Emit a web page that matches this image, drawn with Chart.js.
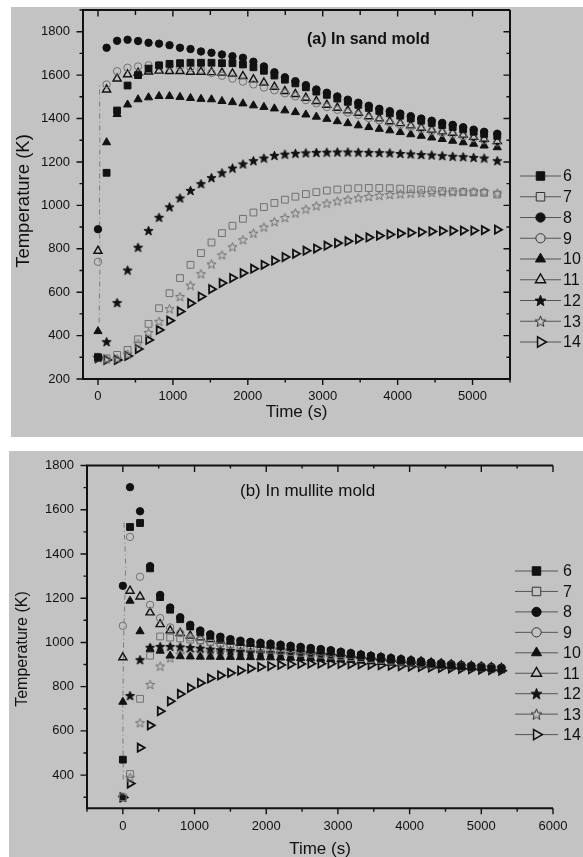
<!DOCTYPE html>
<html>
<head>
<meta charset="utf-8">
<script src="https://cdn.jsdelivr.net/npm/chart.js@4.4.1/dist/chart.umd.min.js"></script>
<style>
  html, body { margin: 0; padding: 0; background: #fff; width: 583px; height: 857px; overflow: hidden; }
  .panel { position: absolute; background: #c3c3c3; }
  #panelA { left: 11px; top: 7px; width: 572px; height: 430px; }
  #panelB { left: 9px; top: 451px; width: 574px; height: 406px; }
  canvas { position: absolute; left: 0; }
  #chartA { top: 0; }
  #chartB { top: 441px; }
</style>
</head>
<body>
<div class="panel" id="panelA"></div>
<div class="panel" id="panelB"></div>
<canvas id="chartA" width="583" height="440"></canvas>
<canvas id="chartB" width="583" height="430"></canvas>
<script>
// ---- data -------------------------------------------------------------
const seriesNames = ['6', '7', '8', '9', '10', '11', '12', '13', '14'];

// (a) sand mold
const timeA = [0, 115, 255, 395, 535, 675, 815, 955, 1095, 1235, 1375, 1515, 1655, 1795, 1935, 2075, 2215,
  2355, 2495, 2635, 2775, 2915, 3055, 3195, 3335, 3475, 3615, 3755, 3895, 4035, 4175, 4315, 4455, 4595,
  4735, 4875, 5015, 5155, 5330];
const sand6 = [300, 1150, 1437, 1552, 1600, 1630, 1645, 1652, 1655, 1657, 1657, 1657, 1655, 1655, 1649, 1636,
  1620, 1598, 1579, 1562, 1544, 1524, 1509, 1492, 1477, 1463, 1449, 1435, 1424, 1413, 1401, 1390, 1380,
  1370, 1361, 1350, 1339, 1329, 1320];
const sand7 = [300, 295, 311, 334, 383, 454, 526, 595, 665, 726, 780, 829, 872, 906, 938, 967, 992, 1011,
  1026, 1040, 1052, 1061, 1068, 1073, 1077, 1079, 1080, 1080, 1079, 1077, 1075, 1072, 1069, 1066, 1064,
  1062, 1060, 1058, 1050];
const sand8 = [890, 1726, 1758, 1763, 1757, 1749, 1745, 1738, 1726, 1720, 1709, 1703, 1695, 1687, 1680, 1662,
  1640, 1613, 1590, 1572, 1554, 1534, 1519, 1502, 1487, 1473, 1459, 1445, 1434, 1423, 1411, 1400, 1390,
  1380, 1371, 1360, 1349, 1339, 1330];
const sand9 = [740, 1557, 1618, 1634, 1640, 1645, 1645, 1643, 1640, 1635, 1625, 1610, 1597, 1584, 1570, 1557,
  1543, 1530, 1516, 1502, 1485, 1470, 1453, 1440, 1428, 1417, 1402, 1392, 1380, 1371, 1361, 1351, 1342,
  1334, 1328, 1319, 1309, 1300, 1290];
const sand10 = [420, 1290, 1420, 1464, 1488, 1497, 1503, 1503, 1499, 1494, 1490, 1488, 1480, 1475, 1469, 1460,
  1453, 1446, 1437, 1429, 1418, 1408, 1398, 1387, 1378, 1368, 1360, 1352, 1345, 1337, 1327, 1320, 1312,
  1305, 1297, 1290, 1283, 1275, 1267];
const sand11 = [790, 1533, 1584, 1603, 1611, 1616, 1620, 1618, 1618, 1615, 1615, 1613, 1611, 1607, 1595, 1580,
  1565, 1546, 1526, 1512, 1495, 1480, 1463, 1449, 1437, 1426, 1410, 1400, 1387, 1378, 1368, 1357, 1348,
  1340, 1334, 1325, 1315, 1306, 1295];
const sand12 = [300, 372, 552, 702, 807, 884, 945, 993, 1034, 1069, 1100, 1128, 1150, 1172, 1191, 1206, 1218,
  1230, 1236, 1240, 1242, 1244, 1245, 1246, 1246, 1245, 1244, 1243, 1242, 1239, 1237, 1234, 1232, 1229,
  1226, 1224, 1221, 1218, 1206];
const sand13 = [300, 292, 295, 315, 365, 414, 466, 524, 580, 632, 685, 730, 772, 809, 842, 872, 900, 925, 944,
  965, 983, 998, 1010, 1020, 1028, 1035, 1041, 1046, 1050, 1053, 1056, 1058, 1060, 1061, 1062, 1063, 1063,
  1063, 1057];
const sand14 = [296, 288, 288, 306, 338, 380, 426, 469, 511, 549, 580, 614, 642, 665, 688, 708, 726, 745, 762,
  777, 791, 801, 814, 826, 835, 845, 852, 860, 866, 871, 874, 877, 880, 882, 883, 884, 884, 886, 888];
const traceTimeA = [15, 25, 20, 25, 20];
const traceTempA = [460, 700, 1000, 1300, 1560];

// (b) mullite mold
const timeB = [0, 100, 240, 380, 520, 660, 800, 940, 1080, 1220, 1360, 1500, 1640, 1780, 1920, 2060, 2200,
  2340, 2480, 2620, 2760, 2900, 3040, 3180, 3320, 3460, 3600, 3740, 3880, 4020, 4160, 4300, 4440, 4580,
  4720, 4860, 5000, 5140, 5280];
const mull6 = [470, 1522, 1540, 1335, 1205, 1148, 1105, 1072, 1047, 1030, 1019, 1009, 1002, 997, 993, 989, 984,
  979, 974, 969, 964, 959, 952, 946, 940, 934, 929, 924, 919, 914, 909, 904, 900, 896, 892, 889, 886, 883, 880];
const mull7 = [300, 405, 745, 940, 1027, 1022, 1018, 1013, 1008, 1002, 996, 990, 984, 978, 972, 967, 962, 957,
  953, 949, 945, 941, 937, 933, 929, 925, 921, 917, 913, 909, 906, 902, 899, 896, 893, 890, 887, 884, 881];
const mull8 = [1256, 1702, 1593, 1345, 1215, 1158, 1114, 1080, 1054, 1037, 1026, 1015, 1008, 1003, 999, 995, 990,
  985, 980, 975, 970, 965, 958, 952, 946, 940, 935, 930, 925, 920, 915, 910, 906, 902, 898, 895, 892, 889, 886];
const mull9 = [1075, 1477, 1297, 1170, 1110, 1068, 1042, 1022, 1010, 1002, 996, 991, 987, 984, 981, 978, 974, 970,
  966, 962, 958, 953, 948, 943, 938, 933, 928, 924, 919, 915, 911, 907, 903, 899, 895, 892, 889, 886, 883];
const mull10 = [731, 1188, 1050, 970, 962, 940, 937, 936, 935, 935, 934, 934, 933, 933, 932, 932, 931, 930, 929,
  928, 926, 924, 922, 920, 917, 914, 911, 908, 905, 902, 899, 896, 893, 891, 889, 887, 885, 883, 881];
const mull11 = [932, 1233, 1207, 1135, 1082, 1054, 1042, 1030, 1022, 1015, 1008, 1003, 998, 994, 990, 986, 982,
  977, 972, 967, 962, 957, 952, 946, 941, 936, 931, 926, 921, 917, 913, 908, 904, 900, 896, 893, 890, 887, 884];
const mull12 = [300, 760, 922, 978, 982, 982, 980, 977, 974, 970, 967, 964, 961, 958, 956, 954, 952, 950, 948,
  946, 943, 940, 937, 934, 931, 927, 923, 920, 916, 912, 908, 905, 901, 898, 895, 892, 889, 886, 883];
const mull13 = [300, 390, 637, 810, 893, 930, 948, 955, 957, 957, 956, 955, 954, 952, 950, 948, 946, 944, 942,
  940, 937, 934, 931, 928, 925, 922, 919, 916, 912, 909, 906, 902, 899, 896, 893, 890, 887, 884, 881];
const mull14 = [299, 362, 524, 625, 689, 734, 767, 794, 817, 837, 851, 862, 873, 882, 889, 893, 898, 901, 903,
  904, 904, 904, 903, 902, 901, 899, 897, 895, 893, 891, 889, 887, 885, 883, 881, 879, 877, 875, 872];
const traceTimeB = [5, 0, 10, 40, 15];
const traceTempB = [380, 700, 1000, 1350, 1545];

// tick labels
const xTicksA = [0, 1000, 2000, 3000, 4000, 5000];
const yTicksA = [200, 400, 600, 800, 1000, 1200, 1400, 1600, 1800];
const xTicksB = [0, 1000, 2000, 3000, 4000, 5000, 6000];
const yTicksB = [400, 600, 800, 1000, 1200, 1400, 1600, 1800];

// ---- styles -----------------------------------------------------------
const FONT = '"Liberation Sans", Arial, sans-serif';
const INK = '#111';
const GREY = '#707070';
const PANEL = '#c3c3c3';

Chart.defaults.font.family = FONT;
Chart.defaults.color = INK;

function starCanvas(size, fill, stroke) {
  const c = document.createElement('canvas');
  c.width = c.height = size;
  const g = c.getContext('2d');
  const r = size / 2 - 0.7, ri = r * 0.42, cx = size / 2, cy = size / 2 + 0.5;
  g.beginPath();
  for (let i = 0; i < 10; i++) {
    const ang = -Math.PI / 2 + i * Math.PI / 5;
    const rr = i % 2 ? ri : r;
    g.lineTo(cx + rr * Math.cos(ang), cy + rr * Math.sin(ang));
  }
  g.closePath();
  if (fill) { g.fillStyle = fill; g.fill(); }
  g.strokeStyle = stroke;
  g.lineWidth = 1;
  g.stroke();
  return c;
}

const markers = [
  { style: 'rect', r: 4.8, fill: INK, line: INK, w: 1 },
  { style: 'rect', r: 4.8, fill: 'transparent', line: GREY, w: 1, key: PANEL },
  { style: 'circle', r: 3.7, fill: INK, line: INK, w: 1 },
  { style: 'circle', r: 3.7, fill: 'transparent', line: GREY, w: 1, key: PANEL },
  { style: 'triangle', r: 4.7, fill: INK, line: INK, w: 1 },
  { style: 'triangle', r: 4.7, fill: 'transparent', line: INK, w: 1.4, key: PANEL },
  { style: starCanvas(11, INK, INK), keyStyle: starCanvas(13, INK, INK), r: 4, fill: INK, line: INK, w: 1 },
  { style: starCanvas(11, null, GREY), keyStyle: starCanvas(13, PANEL, '#333'), r: 4, fill: 'transparent', line: GREY, w: 1 },
  { style: 'triangle', rot: 90, r: 4.7, fill: 'transparent', line: INK, w: 1.8, key: PANEL }
];

function buildSets(times, series, traceX, traceY) {
  const sets = series.map((vals, i) => {
    const m = markers[i];
    return {
      label: seriesNames[i],
      data: vals.map((v, k) => ({ x: times[k], y: v })),
      showLine: false,
      pointStyle: m.style,
      keyStyle: m.keyStyle || m.style,
      keyFill: m.key || m.fill,
      pointRadius: m.r,
      pointHoverRadius: m.r,
      pointRotation: m.rot || 0,
      pointBackgroundColor: m.fill,
      pointBorderColor: m.line,
      pointBorderWidth: m.w
    };
  });
  sets.push({
    label: '',
    data: traceX.map((x, k) => ({ x: x, y: traceY[k] })),
    showLine: true,
    borderColor: '#7a7a7a',
    borderWidth: 1,
    borderDash: [5, 3, 1, 3],
    pointRadius: 0
  });
  return sets;
}

// frame, inner/outer ticks on all sides (Origin style)
const framePlugin = {
  id: 'frame',
  afterDatasetsDraw(chart, args, o) {
    const { ctx, chartArea: a } = chart;
    const x = chart.scales.x, y = chart.scales.y;
    ctx.save();
    ctx.strokeStyle = INK;
    ctx.lineWidth = 2;
    ctx.beginPath();
    ctx.moveTo(a.right, a.top);
    ctx.lineTo(a.left, a.top);
    ctx.lineTo(a.left, a.bottom);
    ctx.lineTo(a.right, a.bottom);
    if (o.right) ctx.lineTo(a.right, a.top);
    ctx.stroke();

    ctx.lineWidth = 1.4;
    ctx.beginPath();
    for (let v = o.xFrom; v <= x.max + 0.01; v += o.xStep) {
      const p = x.getPixelForValue(v);
      const major = v % o.xMajor === 0;
      ctx.moveTo(p, a.bottom); ctx.lineTo(p, a.bottom + (major ? 6 : 3.5));
      ctx.moveTo(p, a.top); ctx.lineTo(p, a.top + (major ? 6.5 : o.topMinor));
    }
    for (let v = o.yFrom; v <= y.max + 0.01; v += o.yStep) {
      const p = y.getPixelForValue(v);
      const major = v % o.yMajor === 0;
      ctx.moveTo(a.left, p); ctx.lineTo(a.left - (major ? 6.5 : 3.5), p);
      if (o.right && v < y.max) { ctx.moveTo(a.right, p); ctx.lineTo(a.right - (major ? 6.5 : 3.5), p); }
    }
    ctx.stroke();
    ctx.restore();
  }
};

const keyPlugin = {
  id: 'key',
  afterDraw(chart, args, o) {
    const { ctx } = chart;
    ctx.save();
    chart.data.datasets.slice(0, seriesNames.length).forEach((ds, i) => {
      const yy = o.y0 + i * o.dy;
      ctx.strokeStyle = '#555';
      ctx.lineWidth = 1;
      ctx.beginPath();
      ctx.moveTo(o.x1, yy);
      ctx.lineTo(o.x2, yy);
      ctx.stroke();
      ctx.fillStyle = ds.keyFill;
      ctx.strokeStyle = ds.pointBorderColor === GREY ? '#333' : ds.pointBorderColor;
      ctx.lineWidth = Math.min(ds.pointBorderWidth, 1.5);
      Chart.helpers.drawPoint(ctx, {
        pointStyle: ds.keyStyle,
        rotation: ds.pointRotation,
        radius: ds.pointRadius * 1.25,
        borderWidth: ds.pointBorderWidth
      }, o.xm, yy);
      ctx.fillStyle = INK;
      ctx.font = '16px ' + FONT;
      ctx.textAlign = 'left';
      ctx.textBaseline = 'middle';
      ctx.fillText(ds.label, o.xt, yy + 1);
    });
    ctx.restore();
  }
};

// panel caption and rotated y-axis title
const captionPlugin = {
  id: 'caption',
  afterDraw(chart, args, o) {
    const { ctx } = chart;
    ctx.save();
    ctx.fillStyle = INK;
    ctx.font = o.font;
    ctx.textBaseline = 'middle';
    ctx.fillText(o.text, o.x, o.y);
    ctx.translate(o.yTitleX, o.yTitleY);
    ctx.rotate(-Math.PI / 2);
    ctx.font = o.yTitleSize + 'px ' + FONT;
    ctx.textAlign = 'center';
    ctx.fillText('Temperature (K)', 0, 0);
    ctx.restore();
  }
};

function makeChart(id, cfg) {
  const tickFont = { family: FONT, size: 13 };
  const titleFont = { family: FONT, size: 17 };
  return new Chart(document.getElementById(id), {
    type: 'scatter',
    data: { datasets: buildSets(cfg.times, cfg.series, cfg.traceX, cfg.traceY) },
    options: {
      responsive: false,
      animation: false,
      events: [],
      layout: { padding: cfg.padding },
      scales: {
        x: {
          type: 'linear', min: cfg.xMin, max: cfg.xMax,
          grid: { display: false, drawTicks: false },
          border: { display: false },
          afterBuildTicks: s => { s.ticks = cfg.xTicks.map(v => ({ value: v })); },
          ticks: { padding: 10, font: tickFont, color: INK, maxRotation: 0, autoSkip: false, callback: v => String(v) },
          title: { display: true, text: 'Time (s)', font: titleFont, color: INK, padding: { top: 0, bottom: cfg.xTitlePad } },
          afterFit: s => { s.height = cfg.xHeight; s.paddingLeft = s.paddingRight = s.paddingTop = s.paddingBottom = 0; }
        },
        y: {
          type: 'linear', min: cfg.yMin, max: cfg.yMax,
          grid: { display: false, drawTicks: false },
          border: { display: false },
          afterBuildTicks: s => { s.ticks = cfg.yTicks.map(v => ({ value: v })); },
          ticks: { padding: 13, font: tickFont, color: INK, autoSkip: false, callback: v => String(v) },
          title: { display: false },
          afterFit: s => { s.width = cfg.yWidth; s.paddingLeft = s.paddingRight = s.paddingTop = s.paddingBottom = 0; }
        }
      },
      plugins: {
        legend: { display: false },
        tooltip: { enabled: false },
        frame: cfg.frame,
        key: cfg.key,
        caption: cfg.caption
      }
    },
    plugins: [framePlugin, keyPlugin, captionPlugin]
  });
}

makeChart('chartA', {
  times: timeA,
  series: [sand6, sand7, sand8, sand9, sand10, sand11, sand12, sand13, sand14],
  traceX: traceTimeA, traceY: traceTempA,
  xMin: -200, xMax: 5500, yMin: 200, yMax: 1900,
  xTicks: xTicksA, yTicks: yTicksA,
  padding: { top: 10, right: 73, bottom: 0, left: 0 },
  xHeight: 61, yWidth: 83, xTitlePad: 17,
  frame: { right: true, xFrom: 0, xStep: 500, xMajor: 1000, yFrom: 200, yStep: 100, yMajor: 200, topMinor: 5 },
  key: { x1: 520, x2: 561, xm: 540.5, xt: 563, y0: 176, dy: 20.75 },
  caption: { text: '(a) In sand mold', font: 'bold 16px ' + FONT, x: 307, y: 40,
    yTitleX: 24, yTitleY: 201, yTitleSize: 18.5 }
});

makeChart('chartB', {
  times: timeB,
  series: [mull6, mull7, mull8, mull9, mull10, mull11, mull12, mull13, mull14],
  traceX: traceTimeB, traceY: traceTempB,
  xMin: -500, xMax: 6000, yMin: 250, yMax: 1800,
  xTicks: xTicksB, yTicks: yTicksB,
  padding: { top: 24.5, right: 30, bottom: 0, left: 0 },
  xHeight: 62.7, yWidth: 87, xTitlePad: 11,
  frame: { right: false, xFrom: -500, xStep: 500, xMajor: 1000, yFrom: 300, yStep: 100, yMajor: 200, topMinor: 3 },
  key: { x1: 515, x2: 558, xm: 536.5, xt: 563, y0: 130, dy: 20.45 },
  caption: { text: '(b) In mullite mold', font: '17px ' + FONT, x: 240, y: 50,
    yTitleX: 23, yTitleY: 208, yTitleSize: 16 }
});
</script>
</body>
</html>
